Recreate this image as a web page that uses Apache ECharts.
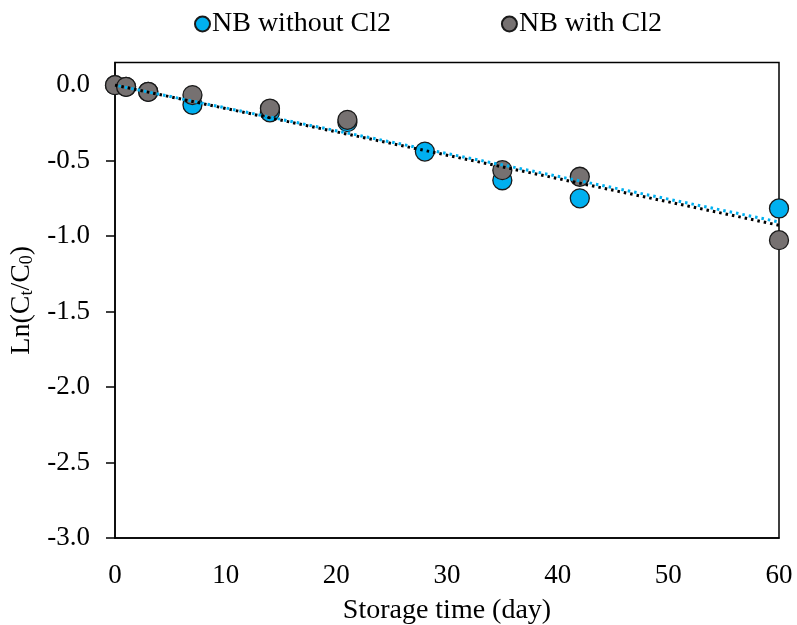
<!DOCTYPE html>
<html>
<head>
<meta charset="utf-8">
<script src="https://cdn.jsdelivr.net/npm/echarts@6/dist/echarts.min.js"></script>
<style>
  html, body { margin: 0; padding: 0; background: #fff; }
  #chart { width: 797px; height: 625px; }
</style>
</head>
<body>
<div id="chart"></div>
<script>
// Storage time (days) at which samples were taken
const daysWithout = [0, 1, 3, 7, 14, 21, 28, 35, 42, 60];
const lnWithout   = [0, -0.011, -0.044, -0.13, -0.18, -0.245, -0.44, -0.63, -0.75, -0.817];

const daysWith = [0, 1, 3, 7, 14, 21, 35, 42, 60];
const lnWith   = [0, -0.011, -0.044, -0.066, -0.155, -0.23, -0.563, -0.607, -1.027];

// Linear trendline end points (day, Ln value)
const trendWithoutX = [0, 60];
const trendWithoutY = [0, -0.906];
const trendWithX = [0, 60];
const trendWithY = [0, -0.928];

const yTicks = [-3, -2.5, -2, -1.5, -1, -0.5, 0];
const xTicks = [0, 10, 20, 30, 40, 50, 60];

const BLUE = '#00B0F0';
const GRAY = '#767171';
const FONT = '"Liberation Serif", "Times New Roman", serif';

const zip = (xs, ys) => xs.map((x, i) => [x, ys[i]]);

const chart = echarts.init(document.getElementById('chart'), null, { renderer: 'canvas' });

chart.setOption({
  animation: false,
  textStyle: { fontFamily: FONT, color: '#000' },
  legend: {
    data: ['NB without Cl2', 'NB with Cl2'],
    top: 5,
    left: 189,
    icon: 'circle',
    itemWidth: 15,
    itemHeight: 15,
    itemGap: 110,
    textStyle: { fontFamily: FONT, fontSize: 28, color: '#000', padding: [0, 0, 0, -3] }
  },
  grid: {
    left: 115, right: 18, top: 62.5, bottom: 87,
    outerBoundsMode: 'none',
    containLabel: false,
    show: true, borderColor: '#000', borderWidth: 1.5, backgroundColor: 'transparent'
  },
  xAxis: {
    type: 'value',
    min: 0, max: 60, interval: 10,
    name: 'Storage time (day)',
    nameLocation: 'middle',
    nameGap: 59,
    nameTextStyle: { fontFamily: FONT, fontSize: 28, color: '#000' },
    axisLine: { show: true, onZero: false, lineStyle: { color: '#000', width: 1.5 } },
    axisTick: { show: false },
    splitLine: { show: false },
    axisLabel: {
      fontFamily: FONT, fontSize: 27, color: '#000', margin: 24,
      customValues: xTicks
    }
  },
  yAxis: {
    type: 'value',
    min: -3, max: 0.15, interval: 0.5,
    name: '{a|Ln(C}{s|t}{a|/C}{s|0}{a|)}',
    nameLocation: 'middle',
    nameGap: 76,
    nameTextStyle: {
      fontFamily: FONT, color: '#000',
      rich: {
        a: { fontFamily: FONT, fontSize: 28, color: '#000' },
        s: { fontFamily: FONT, fontSize: 18, color: '#000', verticalAlign: 'bottom', padding: [11, 0, 0, 0] }
      }
    },
    axisLine: { show: true, onZero: false, lineStyle: { color: '#000', width: 1.5 } },
    axisTick: {
      show: true, inside: false, length: 9,
      lineStyle: { color: '#000', width: 1.5 },
      customValues: yTicks
    },
    splitLine: { show: false },
    axisLabel: {
      fontFamily: FONT, fontSize: 27, color: '#000', margin: 25,
      customValues: yTicks,
      formatter: v => v.toFixed(1)
    }
  },
  series: [
    {
      name: 'NB without Cl2',
      type: 'scatter',
      data: zip(daysWithout, lnWithout),
      symbol: 'circle',
      symbolSize: 19,
      clip: false,
      z: 2,
      itemStyle: { color: BLUE, borderColor: '#1a1a1a', borderWidth: 1.3, opacity: 1 }
    },
    {
      name: 'NB with Cl2',
      type: 'scatter',
      data: zip(daysWith, lnWith),
      symbol: 'circle',
      symbolSize: 19,
      clip: false,
      z: 3,
      itemStyle: { color: GRAY, borderColor: '#1a1a1a', borderWidth: 1.3, opacity: 1 }
    },
    {
      name: 'Linear (NB with Cl2)',
      type: 'line',
      data: zip(trendWithX, trendWithY),
      symbol: 'none',
      z: 4,
      lineStyle: { color: '#000', width: 3, type: [2.5, 4] }
    },
    {
      name: 'Linear (NB without Cl2)',
      type: 'line',
      data: zip(trendWithoutX, trendWithoutY),
      symbol: 'none',
      z: 5,
      lineStyle: { color: BLUE, width: 3, type: [2.5, 4], dashOffset: 3 }
    }
  ]
});
</script>
</body>
</html>
